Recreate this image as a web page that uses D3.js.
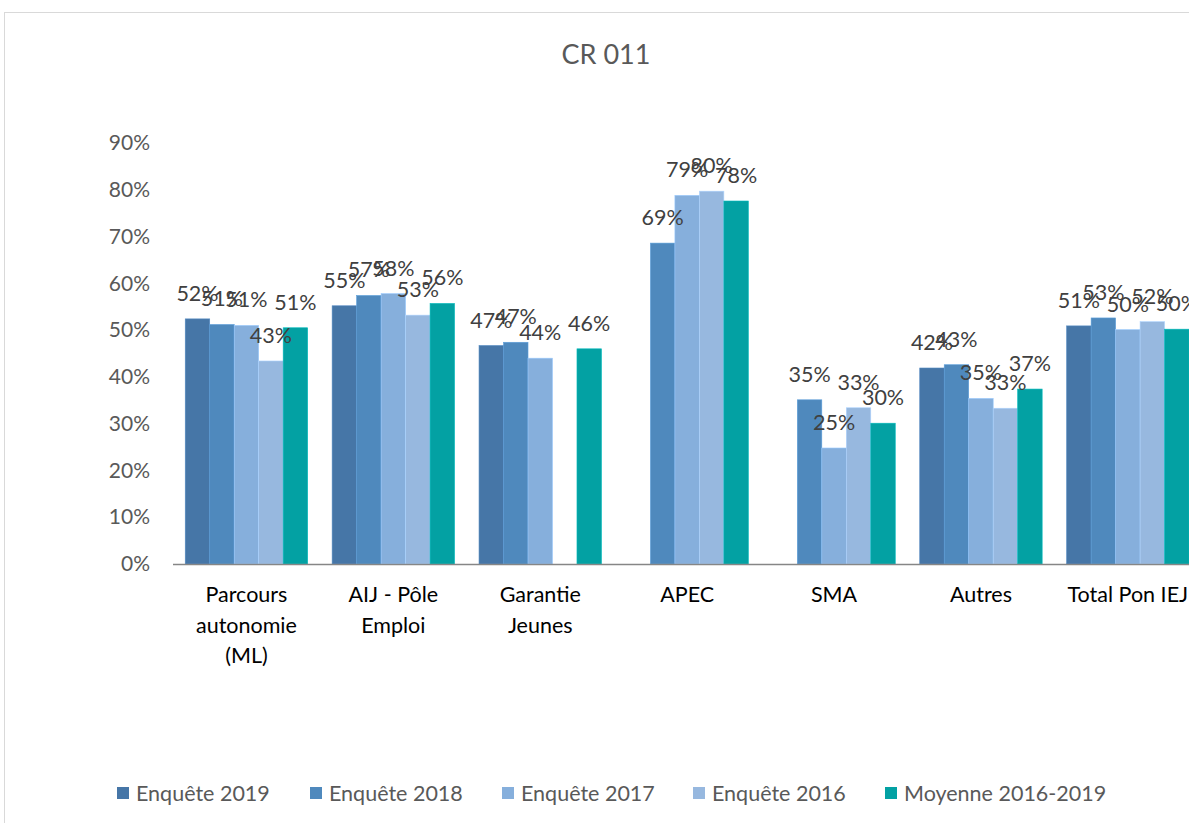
<!DOCTYPE html>
<html>
<head>
<meta charset="utf-8">
<script src="https://cdn.jsdelivr.net/npm/d3@7"></script>
<style>
  body { margin: 0; background: #fff; }
  svg { display: block; font-family: Lato, "Open Sans", sans-serif; }
</style>
</head>
<body>
<svg id="chart" width="1189" height="823"></svg>
<script>
// categories and series (values in %, null = no bar)
var categories = [["Parcours", "autonomie", "(ML)"], ["AIJ - Pôle", "Emploi"], ["Garantie", "Jeunes"], ["APEC"], ["SMA"], ["Autres"], ["Total Pon IEJ"]];
var seriesNames = ["Enquête 2019", "Enquête 2018", "Enquête 2017", "Enquête 2016", "Moyenne 2016-2019"];
var enquete2019 = [52.4, 55.2, 46.7, null, null, 41.9, 50.9];
var enquete2018 = [51.2, 57.4, 47.4, 68.6, 35.1, 42.6, 52.6];
var enquete2017 = [51.0, 57.8, 44.0, 78.8, 24.8, 35.4, 50.1];
var enquete2016 = [43.4, 53.2, null, 79.7, 33.4, 33.3, 51.8];
var moyenne = [50.5, 55.7, 46.0, 77.6, 30.1, 37.4, 50.2];
var yTicks = [0, 10, 20, 30, 40, 50, 60, 70, 80, 90];
var colors = ["#4676a7", "#4f89bd", "#86afdc", "#97b8df", "#03a1a3"];

var allSeries = [enquete2019, enquete2018, enquete2017, enquete2016, moyenne];
var fs = "21.5px";

var svg = d3.select("#chart");

// chart border
svg.append("rect")
  .attr("x", 4.5).attr("y", 12.5)
  .attr("width", 1300).attr("height", 900)
  .attr("fill", "none").attr("stroke", "#d9d9d9");

// title
svg.append("text")
  .attr("x", 606).attr("y", 64)
  .attr("text-anchor", "middle")
  .attr("fill", "#595959")
  .style("font-size", "27px")
  .text("CR 011");

var x0 = d3.scaleBand()
  .domain(d3.range(categories.length))
  .range([173, 173 + 146.9 * categories.length])
  .paddingInner(0.1666).paddingOuter(0.0833);

var x1 = d3.scaleBand()
  .domain(d3.range(seriesNames.length))
  .range([0, x0.bandwidth()]);

var y = d3.scaleLinear().domain([0, 90]).range([564, 143]);

// y axis labels
var yAxis = d3.axisLeft(y)
  .tickValues(yTicks)
  .tickSize(0)
  .tickPadding(0)
  .tickFormat(function(d) { return d + "%"; });

var gy = svg.append("g")
  .attr("transform", "translate(150,0)")
  .call(yAxis);
gy.select(".domain").remove();
gy.selectAll("text")
  .attr("fill", "#595959")
  .style("font-size", "21px")
  .style("font-family", "Lato, sans-serif");

// bars
var groups = svg.selectAll("g.cat")
  .data(categories)
  .enter().append("g")
  .attr("class", "cat")
  .attr("transform", function(d, i) { return "translate(" + x0(i) + ",0)"; });

groups.each(function(c, ci) {
  var g = d3.select(this);
  allSeries.forEach(function(s, si) {
    var v = s[ci];
    if (v === null) return;
    g.append("rect")
      .attr("x", x1(si))
      .attr("y", y(v))
      .attr("width", x1.bandwidth())
      .attr("height", y(0) - y(v))
      .attr("fill", colors[si])
      .attr("stroke", d3.color(colors[si]).brighter(0.4))
      .attr("stroke-width", 0.6);
  });
});

// data labels
groups.each(function(c, ci) {
  var g = d3.select(this);
  allSeries.forEach(function(s, si) {
    var v = s[ci];
    if (v === null) return;
    g.append("text")
      .attr("x", x1(si) + x1.bandwidth() / 2)
      .attr("y", y(v) - 18)
      .attr("text-anchor", "middle")
      .attr("fill", "#404040")
      .style("font-size", fs)
      .text(Math.round(v) + "%");
  });
});

// x axis line
svg.append("line")
  .attr("x1", 173).attr("x2", 1189)
  .attr("y1", 564.5).attr("y2", 564.5)
  .attr("stroke", "#868686").attr("stroke-width", 1.5);

// category labels
groups.append("text")
  .attr("text-anchor", "middle")
  .attr("fill", "#000")
  .style("font-size", fs)
  .each(function(lines) {
    var t = d3.select(this);
    lines.forEach(function(l, li) {
      t.append("tspan")
        .attr("x", x0.bandwidth() / 2)
        .attr("y", 602 + li * 30.5)
        .text(l);
    });
  });

// legend
var legendX = [117, 310, 502, 693, 885];
var legend = svg.selectAll("g.legend")
  .data(seriesNames)
  .enter().append("g")
  .attr("class", "legend")
  .attr("transform", function(d, i) { return "translate(" + legendX[i] + ",793)"; });

legend.append("rect")
  .attr("x", 0).attr("y", -6)
  .attr("width", 12).attr("height", 12)
  .attr("fill", function(d, i) { return colors[i]; });

legend.append("text")
  .attr("x", 19).attr("y", 7.5)
  .attr("fill", "#595959")
  .style("font-size", fs)
  .text(function(d) { return d; });
</script>
</body>
</html>
